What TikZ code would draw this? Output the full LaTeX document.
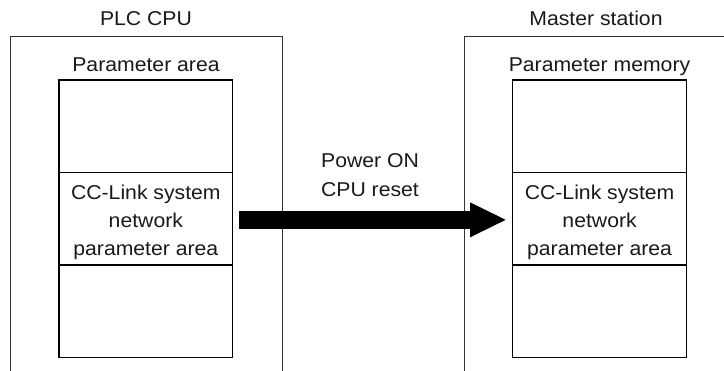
\documentclass[tikz,border=0pt]{standalone}
\usepackage{fontspec}
\setmainfont{Liberation Sans}[FakeStretch=1.06]
\usetikzlibrary{arrows.meta,calc}
\begin{document}
\begin{tikzpicture}[x=1pt,y=-1pt,
  lbl/.style={font=\fontsize{20}{28}\selectfont, text=black!90, inner sep=0pt},
  cell/.style={draw=black, line width=1.3pt, minimum width=173.7pt, inner sep=0pt, outer sep=0pt, anchor=north},
  outer/.style={draw=black!80, line width=1pt},
  bigarrow/.style={line width=18pt, black, -{Triangle[length=36.7pt,width=32pt]}}]
\useasboundingbox (0,0) rectangle (724,371);
% outer boxes (open at bottom / right)
\draw[outer] (10,371) -- (10,37) -- (282,37) -- (282,371);
\draw[outer] (464,371) -- (464,37) -- (724,37);
% titles
\node[lbl, anchor=base] (t1) at (146,26) {PLC CPU};
\node[lbl, anchor=base] (t2) at (596,26) {Master station};
\node[lbl, anchor=base] (a1) at (146,71.5) {Parameter area};
\node[lbl, anchor=base] (a2) at (599.5,71.5) {Parameter memory};
% left stack
\node[cell, minimum height=92.7pt] (ltop) at (145.85,80) {};
\node[cell, minimum height=92.3pt] (lmid) at (145.85,172.7) {};
\node[cell, minimum height=92.3pt] (lbot) at (145.85,265) {};
% right stack
\node[cell, minimum height=92.7pt] (rtop) at (599.6,80) {};
\node[cell, minimum height=92.3pt] (rmid) at (599.6,172.7) {};
\node[cell, minimum height=92.3pt] (rbot) at (599.6,265) {};
% cell texts (base = last line's baseline)
\node[lbl, align=center, anchor=base] (ltxt) at ($(lmid.center)+(0,37)$) {CC-Link system\\network\\parameter area};
\node[lbl, align=center, anchor=base] (rtxt) at ($(rmid.center)+(0,37)$) {CC-Link system\\network\\parameter area};
% arrow and label
\draw[bigarrow] ([xshift=6.6pt,yshift=-1pt]lmid.east) -- ([xshift=-6pt,yshift=-1pt]rmid.west);
\node[lbl, font=\fontsize{20}{29}\selectfont, align=center, anchor=base] (cond) at (370,197) {Power ON\\CPU reset};
\end{tikzpicture}
\end{document}
